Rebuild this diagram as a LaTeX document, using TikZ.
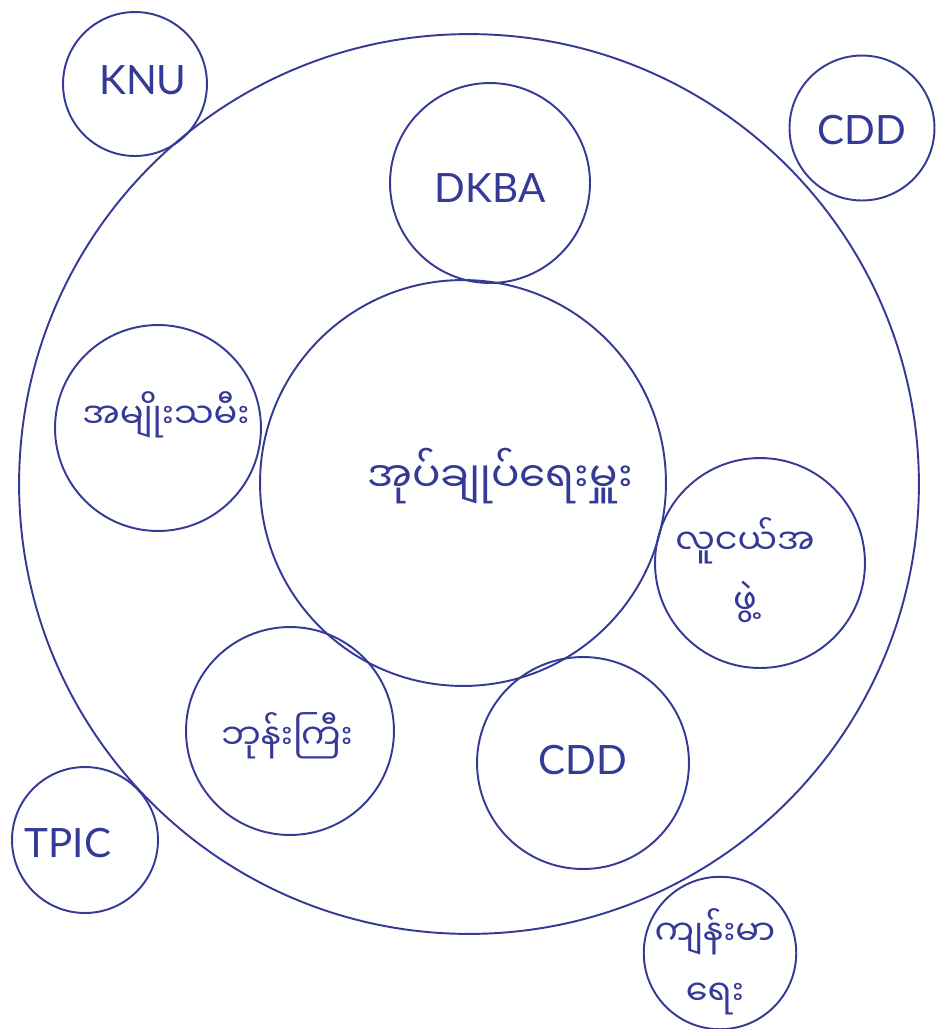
\documentclass[tikz,border=0pt]{standalone}
\usepackage{fontspec}
\setmainfont{Lato}
\newfontfamily\mmfont[Script=Myanmar]{Noto Sans Myanmar UI}
\usetikzlibrary{positioning}
\definecolor{ink}{RGB}{52,58,150}

\begin{document}
\begin{tikzpicture}[x=0.02cm,y=-0.02cm,
  ring/.style={draw=ink,circle,line width=1.1pt,inner sep=0pt},
  lt/.style={text=ink,font=\fontsize{23}{28}\selectfont},
  mm/.style={text=ink,font=\mmfont\fontsize{20}{34}\selectfont,align=center}]
  \useasboundingbox (0,0) rectangle (937,1029);
  % rings
  \node[ring,minimum size=18cm]   (outer) at (469,484) {};
  \node[ring,minimum size=8.12cm] (admin) at (463,483) {};
  \node[ring,minimum size=4cm]    (dkba)  at (490,183) {};
  \node[ring,minimum size=4.12cm] (women) at (158,428) {};
  \node[ring,minimum size=4.2cm]  (youth) at (760,563) {};
  \node[ring,minimum size=4.16cm] (monk)  at (290,731) {};
  \node[ring,minimum size=4.24cm] (cddin) at (583,763) {};
  \node[ring,minimum size=2.88cm] (knu)   at (135,84)  {};
  \node[ring,minimum size=2.9cm]  (cddout) at (862,128) {};
  \node[ring,minimum size=2.92cm] (tpic)  at (85,840)  {};
  \node[ring,minimum size=3.05cm] (health) at (720,953) {};
  % texts
  \node[lt] (knuTxt)    at (143,80)  {KNU};
  \node[lt] (dkbaTxt)   at (490,188) {DKBA};
  \node[lt] (cddoutTxt) at (862,130) {CDD};
  \node[lt] (cddinTxt)  at (583,760) {CDD};
  \node[lt] (tpicTxt)   at (68,843)  {TPIC};
  \node[mm,font=\mmfont\fontsize{24}{34}\selectfont] (adminTxt) at (500,476) {အုပ်ချုပ်ရေးမှူး};
  \node[mm] (womenTxt)  at (166,415) {အမျိုးသမီး};
  \node[mm] (youthTxt)  at (745,570) {လူငယ်အ\\ဖွဲ့};
  \node[mm] (monkTxt)   at (287,736) {ဘုန်းကြီး};
  \node[mm] (healthTxt) at (715,962) {ကျန်းမာ\\ရေး};
\end{tikzpicture}
\end{document}
